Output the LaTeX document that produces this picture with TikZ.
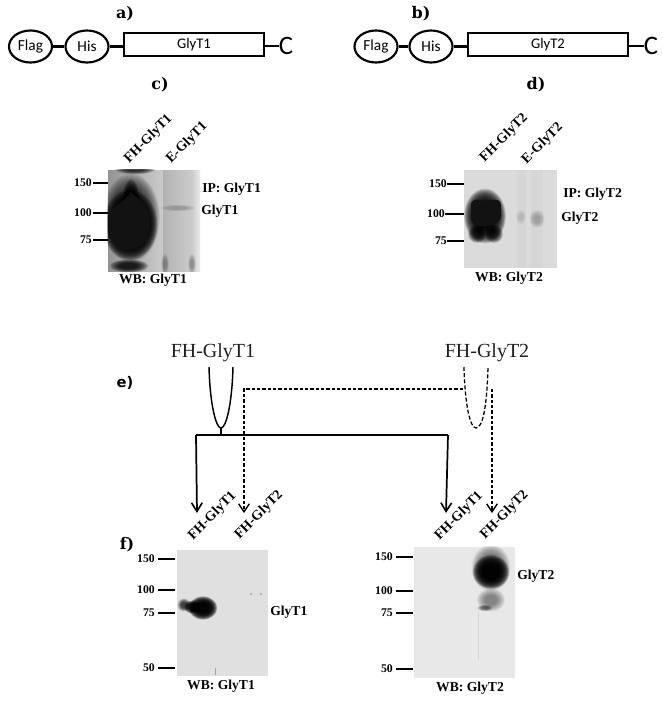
\documentclass[tikz,border=0pt]{standalone}
\usepackage{fontspec}
\setmainfont{Liberation Serif}
\newfontfamily\carl{Carlito}
\newfontfamily\dserif{DejaVu Serif}
\newfontfamily\dsans{DejaVu Sans}
\usetikzlibrary{arrows.meta,calc,shapes.geometric}
\newdimen\px \px=0.75pt
% soft blot: centre x, y, radii x, y, strength of each layer
\newcommand{\softblob}[5]{%
  \foreach \k in {0,...,15}{%
    \pgfmathsetmacro{\f}{1.3-0.05*\k}%
    \fill[black,opacity=#5] (#1,#2) ellipse [x radius=\f*#3,y radius=\f*#4];%
  }%
}
\tikzset{
  x=1\px,y=-1\px,
  tag/.style={draw,line width=1.6pt,ellipse,minimum width=#1\px,minimum height=32\px,inner sep=0pt,font=\carl\fontsize{11.5}{12}\selectfont},
  barbox/.style={draw,line width=1.6pt,rectangle,minimum height=23\px,inner sep=0pt,minimum width=#1\px,font=\carl\fontsize{11}{12}\selectfont},
  link/.style={line width=1.6pt},
  captxt/.style={font=\dserif\bfseries\fontsize{12}{13}\selectfont,inner sep=0pt},
  endc/.style={inner sep=0pt,font=\carl\fontsize{20}{21}\selectfont},
  lbl/.style={font=\bfseries\fontsize{10.2}{11}\selectfont,inner sep=0pt},
  num/.style={font=\bfseries\fontsize{8.8}{10}\selectfont,inner sep=0pt,anchor=east},
  lane/.style={font=\bfseries\fontsize{10.4}{11}\selectfont,inner sep=0pt,rotate=45,anchor=center},
  tick/.style={line width=1.3pt},
  panel/.style 2 args={minimum width=#1\px,minimum height=#2\px,inner sep=0pt,rectangle},
  solidarrow/.style={line width=1.3pt,-{Straight Barb[length=6.5pt,width=8pt,line width=1.2pt]}},
  dasharrow/.style={line width=.85pt,dash pattern=on 2.6pt off 1.4pt,-{Straight Barb[length=6pt,width=8pt,line width=1pt]}},
  dashline/.style={line width=.95pt,dash pattern=on 3pt off 1.6pt},
  big/.style={font=\fontsize{15}{16}\selectfont,text=black!88,inner sep=0pt},
}
\begin{document}
\begin{tikzpicture}
\useasboundingbox (0,0) rectangle (663,701);
% --- a) b)
\node[captxt] (la) at (125,14) {a)};
\node[captxt] (lb) at (421,14) {b)};
\node[captxt] (lc) at (160,85) {c)};
\node[captxt] (ld) at (536,85) {d)};
\node[tag=43] (f1) at (30.5,46.5) {Flag};
\node[tag=43] (h1) at (87,46.5) {His};
\node[barbox=140] (b1) at (194,44.5) {GlyT1};
\node[endc] (c1) at (286,46) {C};
\draw[link] (f1) -- (h1);
\draw[link] (h1) -- (b1.west |- h1);
\draw[link] (b1.east |- c1) -- (c1);
\node[tag=43] (f2) at (376,46.5) {Flag};
\node[tag=43] (h2) at (431,46.5) {His};
\node[barbox=160] (b2) at (548,44.5) {GlyT2};
\node[endc] (c2) at (651,46) {C};
\draw[link] (f2) -- (h2);
\draw[link] (h2) -- (b2.west |- h2);
\draw[link] (b2.east |- c2) -- (c2);
% --- panel c
\node[panel={92}{101},fill=black!12] (pc) at (154,220.5) {};
\begin{scope}
\clip (pc.north west) rectangle (pc.south east);
\shade[left color=black!42,right color=black!20] (108,170) rectangle (163.5,271);
\shade[left color=black!30,right color=black!20] (163,170) rectangle (192,271);
\shade[left color=black!20,right color=black!8] (192,170) rectangle (200,271);
\softblob{131}{218}{22}{34}{0.10}
\softblob{130}{225}{21}{27}{0.2}
\softblob{131}{205}{7}{20}{0.14}
\fill[black!93] (131,192) .. controls (138,199) and (150,205) .. (150,222) .. controls (150,241) and (140,250) .. (128,250) .. controls (116,250) and (109,240) .. (108,228) -- (108,214) .. controls (113,206) and (125,202) .. (131,192) -- cycle;
\softblob{129}{266}{15}{5}{0.1}
\softblob{135}{169}{16}{4}{0.08}
\softblob{178}{208}{14}{2.5}{0.012}
\softblob{192}{264}{3}{8}{0.02}
\softblob{165}{264}{3}{8}{0.02}
\end{scope}
\node[num] (c150) at (92,183) {150};
\node[num] (c100) at (92,213) {100};
\node[num] (c75) at (92,240) {75};
\foreach \n in {c150,c100,c75} \draw[tick] ($(\n.east)+(1,0)$) -- (\n.east -| pc.west);
\node[lane] (cl1) at (148.5,139) {FH-GlyT1};
\node[lane] (cl2) at (187,143) {E-GlyT1};
\node[lbl,anchor=west] (cl3) at (202,189) {IP: GlyT1};
\node[lbl,anchor=west] (cl4) at (201,211) {GlyT1};
\node[lbl] (cl5) at (153,280) {WB: GlyT1};
% --- panel d
\node[panel={93}{98},fill=black!14] (pd) at (510.5,219) {};
\begin{scope}
\clip (pd.north west) rectangle (pd.south east);
\softblob{485}{216}{16}{21}{0.17}
\softblob{477}{234}{7}{7}{0.08}
\softblob{494}{234}{7}{7}{0.08}
\fill[black!93,rounded corners=6\px] (471,199) -- (485,201) -- (501,199) -- (501,222) -- (485,227) -- (471,224) -- cycle;
\fill[black,opacity=.02] (517,170) rectangle (526,268);
\fill[black,opacity=.02] (531,170) rectangle (543,268);
\softblob{537}{219}{6}{7}{0.014}
\softblob{521}{217}{4}{6}{0.008}
\end{scope}
\node[num] (d150) at (447,184) {150};
\node[num] (d100) at (445,214) {100};
\node[num] (d75) at (447,241) {75};
\foreach \n in {d150,d100,d75} \draw[tick] (\n.east) -- (\n.east -| pd.west);
\node[lane] (dl1) at (504,138) {FH-GlyT2};
\node[lane] (dl2) at (542.5,143.5) {E-GlyT2};
\node[lbl,anchor=west] (dl3) at (563,194) {IP: GlyT2};
\node[lbl,anchor=west] (dl4) at (561,218) {GlyT2};
\node[lbl] (dl5) at (509,278) {WB: GlyT2};
% --- scheme e
\node[big] (s1) at (213,353) {FH-GlyT1};
\node[big] (s2) at (487,353) {FH-GlyT2};
\node[font=\dsans\bfseries\fontsize{11}{12}\selectfont,inner sep=0pt] (le) at (125,383) {e)};
\coordinate (u1l) at (209,367);
\coordinate (u1r) at (233,367);
\coordinate (u1b) at (221,428);
\coordinate (bar) at (221,435);
\coordinate (barl) at (196,435);
\coordinate (barr) at (448,435);
\coordinate (u2l) at (464,367);
\coordinate (u2r) at (488,367);
\coordinate (u2b) at (476,428);
\coordinate (dl) at (463,389);
\coordinate (dc) at (244,389);
\coordinate (dtop) at (492,389);
\coordinate (a1) at (197,513);
\coordinate (a2) at (244,513);
\coordinate (a3) at (446,513);
\coordinate (a4) at (492,513);
\draw[line width=1.1pt] (u1l) .. controls (210,405) and (216,428) .. (u1b) .. controls (226,428) and (232,405) .. (u1r);
\draw[line width=1.1pt] (u1b) -- (bar);
\draw[line width=1.7pt] (barl) -- (barr);
\draw[solidarrow] (barl) -- (a1);
\draw[solidarrow] (barr) -- (a3);
\draw[dashline] (u2l) .. controls (465,405) and (470,428) .. (u2b) .. controls (483,428) and (487,405) .. (u2r);
\draw[dasharrow] (dl) -- (dc) -- (a2);
\draw[dasharrow] (dtop) -- (a4);
\node[lane] (el1) at (212.5,516) {FH-GlyT1};
\node[lane] (el2) at (259,515) {FH-GlyT2};
\node[lane] (el3) at (459,516) {FH-GlyT1};
\node[lane] (el4) at (504.5,515) {FH-GlyT2};
\node[captxt] (lf) at (127,545) {f)};
% --- panel f left
\node[panel={91}{126},fill=black!12] (pf) at (222.5,613) {};
\begin{scope}
\clip (pf.north west) rectangle (pf.south east);
\softblob{203}{608}{11}{9}{0.2}
\softblob{184}{605}{5}{5}{0.07}
\softblob{192}{607}{6}{5}{0.12}
\softblob{251}{594}{1.5}{1.5}{0.012}
\softblob{261}{594}{1.5}{1.5}{0.012}
\draw[black!35,line width=.6pt] (215,675) -- (215,668);
\end{scope}
\node[num] (f150) at (155,559) {150};
\node[num] (f100) at (155,590) {100};
\node[num] (f75) at (155,613) {75};
\node[num] (f50) at (155,668) {50};
\foreach \n in {f150,f100,f75,f50} \draw[tick] ($(\n.east)+(3,0)$) -- ($(\n.east -| pf.west)+(-2,0)$);
\node[lbl,anchor=west] (fl1) at (270,612) {GlyT1};
\node[lbl] (fl2) at (221,686) {WB: GlyT1};
% --- panel f right
\node[panel={101}{131},fill=black!9] (pg) at (464.5,612.5) {};
\begin{scope}
\clip (pg.north west) rectangle (pg.south east);
\softblob{491}{568}{15}{18}{0.05}
\softblob{491}{572}{14}{13}{0.18}
\softblob{491}{600}{11}{9}{0.03}
\softblob{485}{608}{6}{2.5}{0.04}
\draw[black!16,line width=.5pt] (478,612) -- (478,660);
\end{scope}
\node[num] (g150) at (393,557) {150};
\node[num] (g100) at (393,591) {100};
\node[num] (g75) at (393,613) {75};
\node[num] (g50) at (393,669) {50};
\foreach \n in {g150,g100,g75,g50} \draw[tick] ($(\n.east)+(3,0)$) -- ($(\n.east -| pg.west)+(-1,0)$);
\node[lbl,anchor=west] (gl1) at (517,576) {GlyT2};
\node[lbl] (gl2) at (470,688) {WB: GlyT2};
\end{tikzpicture}
\end{document}
